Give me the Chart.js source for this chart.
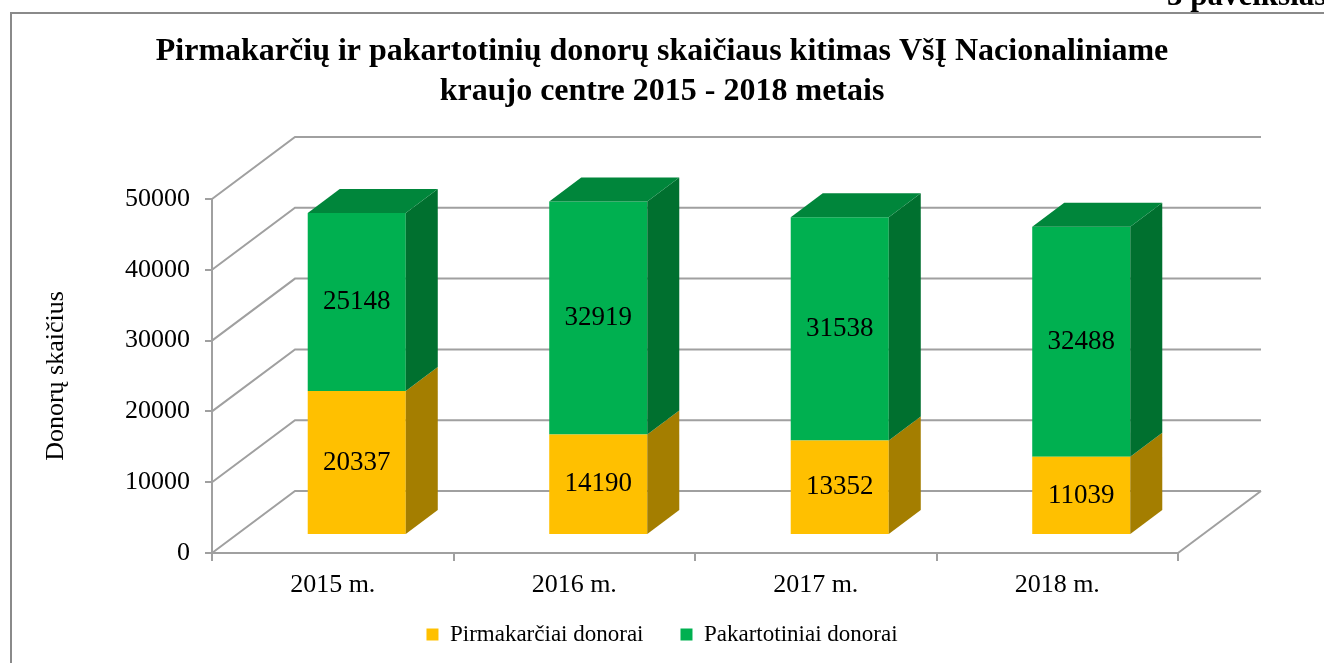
<!DOCTYPE html>
<html>
<head>
<meta charset="utf-8">
<script src="https://cdn.jsdelivr.net/npm/chart.js@4.4.1/dist/chart.umd.min.js"></script>
<style>
  html, body { margin: 0; padding: 0; background: #fff; }
  #wrap { width: 1324px; height: 663px; }
</style>
</head>
<body>
<div id="wrap"><canvas id="c" width="1324" height="663"></canvas></div>
<script>
// ---- data ----
const categories = ['2015 m.', '2016 m.', '2017 m.', '2018 m.'];
const firstTimeDonors = [20337, 14190, 13352, 11039];
const repeatDonors = [25148, 32919, 31538, 32488];
const seriesNames = ['Pirmakarčiai donorai', 'Pakartotiniai donorai'];
const yTickValues = [0, 10000, 20000, 30000, 40000, 50000];
const titleLines = ['Pirmakarčių ir pakartotinių donorų skaičiaus kitimas VšĮ Nacionaliniame', 'kraujo centre 2015 - 2018 metais'];
const yAxisTitle = 'Donorų skaičius';
const cornerText = '3 paveikslas';

// ---- styles ----
const SERIF = '"Liberation Serif", "Times New Roman", serif';
const GRID = '#a0a0a0';
const WALL = { dx: 83, dy: -62 };      // depth of the 3D box
const BAR_SHIFT = { dx: 24, dy: -18 };  // bars sit inside the depth
const BAR_DEPTH = { dx: 32, dy: -24 };
const faceColors = [
  { front: '#FFC000', side: '#A47E00', top: '#C99700' },
  { front: '#00B050', side: '#00702F', top: '#00863B' }
];

const threeD = {
  id: 'threeD',
  beforeDraw(chart) {
    const ctx = chart.ctx;
    ctx.save();
    // page frame
    ctx.strokeStyle = '#8a8a8a';
    ctx.lineWidth = 2;
    ctx.beginPath();
    ctx.moveTo(11, 663);
    ctx.lineTo(11, 13);
    ctx.lineTo(1324, 13);
    ctx.stroke();
    ctx.fillStyle = '#000';
    ctx.font = 'bold 31px ' + SERIF;
    ctx.textBaseline = 'alphabetic';
    ctx.fillText(cornerText, 1167, 5);
    ctx.restore();
  },
  beforeDatasetsDraw(chart) {
    const ctx = chart.ctx;
    const y = chart.scales.y;
    const L = chart.chartArea.left, R = chart.chartArea.right;
    ctx.save();
    ctx.strokeStyle = GRID;
    ctx.lineWidth = 2;
    // gridlines on the side & back walls
    yTickValues.forEach(v => {
      const py = y.getPixelForValue(v);
      ctx.beginPath();
      ctx.moveTo(L, py);
      ctx.lineTo(L + WALL.dx, py + WALL.dy);
      ctx.lineTo(R + WALL.dx, py + WALL.dy);
      ctx.stroke();
    });
    // floor right edge
    const p0 = y.getPixelForValue(0);
    ctx.beginPath();
    ctx.moveTo(R + WALL.dx, p0 + WALL.dy);
    ctx.lineTo(R, p0);
    ctx.stroke();
    ctx.restore();
    // shift the bars into the depth
    ctx.save();
    ctx.translate(BAR_SHIFT.dx, BAR_SHIFT.dy);
  },
  afterDatasetsDraw(chart) {
    const ctx = chart.ctx;
    const nSets = chart.data.datasets.length;
    for (let d = 0; d < nSets; d++) {
      const meta = chart.getDatasetMeta(d);
      meta.data.forEach((bar) => {
        const p = bar.getProps(['x', 'y', 'base', 'width'], true);
        const l = p.x - p.width / 2, r = p.x + p.width / 2;
        const top = Math.min(p.y, p.base), bot = Math.max(p.y, p.base);
        ctx.fillStyle = faceColors[d].side;
        ctx.beginPath();
        ctx.moveTo(r, top);
        ctx.lineTo(r + BAR_DEPTH.dx, top + BAR_DEPTH.dy);
        ctx.lineTo(r + BAR_DEPTH.dx, bot + BAR_DEPTH.dy);
        ctx.lineTo(r, bot);
        ctx.closePath();
        ctx.fill();
        if (d === nSets - 1) {
          ctx.fillStyle = faceColors[d].top;
          ctx.beginPath();
          ctx.moveTo(l, top);
          ctx.lineTo(l + BAR_DEPTH.dx, top + BAR_DEPTH.dy);
          ctx.lineTo(r + BAR_DEPTH.dx, top + BAR_DEPTH.dy);
          ctx.lineTo(r, top);
          ctx.closePath();
          ctx.fill();
        }
      });
    }
    // value labels
    ctx.fillStyle = '#000';
    ctx.font = '27px ' + SERIF;
    ctx.textAlign = 'center';
    ctx.textBaseline = 'middle';
    for (let d = 0; d < nSets; d++) {
      const meta = chart.getDatasetMeta(d);
      const vals = chart.data.datasets[d].data;
      meta.data.forEach((bar, i) => {
        const p = bar.getProps(['x', 'y', 'base'], true);
        ctx.fillText(String(vals[i]), p.x, (p.y + p.base) / 2);
      });
    }
    ctx.restore();
  }
};

new Chart(document.getElementById('c'), {
  type: 'bar',
  data: {
    labels: categories,
    datasets: [
      { label: seriesNames[0], data: firstTimeDonors, backgroundColor: faceColors[0].front, borderWidth: 0 },
      { label: seriesNames[1], data: repeatDonors, backgroundColor: faceColors[1].front, borderWidth: 0 }
    ]
  },
  options: {
    responsive: false,
    animation: false,
    events: [],
    layout: { padding: { top: 12, left: 0, right: 0, bottom: 7 } },
    datasets: { bar: { barPercentage: 0.406, categoryPercentage: 1.0 } },
    scales: {
      x: {
        stacked: true,
        grid: { display: true, drawOnChartArea: false, drawTicks: true, tickLength: 8, color: GRID, lineWidth: 2, offset: true },
        border: { display: true, color: GRID, width: 2 },
        ticks: { color: '#000', font: { family: SERIF, size: 26 }, padding: 9 },
        afterFit(s) { s.height = 33; s._computeLabelArea = () => undefined; }
      },
      y: {
        stacked: true,
        min: yTickValues[0],
        max: yTickValues[yTickValues.length - 1],
        afterBuildTicks(s) { s.ticks = yTickValues.map(v => ({ value: v })); },
        grid: { display: true, drawOnChartArea: false, drawTicks: true, tickLength: 7, color: GRID, lineWidth: 2 },
        border: { display: true, color: GRID, width: 2 },
        ticks: { color: '#000', font: { family: SERIF, size: 26 }, padding: 15, callback: (v) => String(v) },
        title: { display: true, text: yAxisTitle, color: '#000', font: { family: SERIF, size: 26 }, padding: { top: 41, bottom: 0 } },
        afterFit(s) { s.width = 212; }
      },
      depthSpace: {
        position: 'right',
        display: true,
        grid: { display: false },
        border: { display: false },
        ticks: { display: false },
        afterFit(s) { s.width = 146; }
      }
    },
    plugins: {
      title: {
        display: true,
        text: titleLines,
        color: '#000',
        font: { family: SERIF, size: 32, weight: 'bold', lineHeight: 40 / 32 },
        padding: { top: 20, bottom: 87 }
      },
      legend: {
        display: true,
        position: 'bottom',
        labels: { color: '#000', font: { family: SERIF, size: 23 }, boxWidth: 12, boxHeight: 12, padding: 37 }
      },
      tooltip: { enabled: false }
    }
  },
  plugins: [threeD]
});
</script>
</body>
</html>
